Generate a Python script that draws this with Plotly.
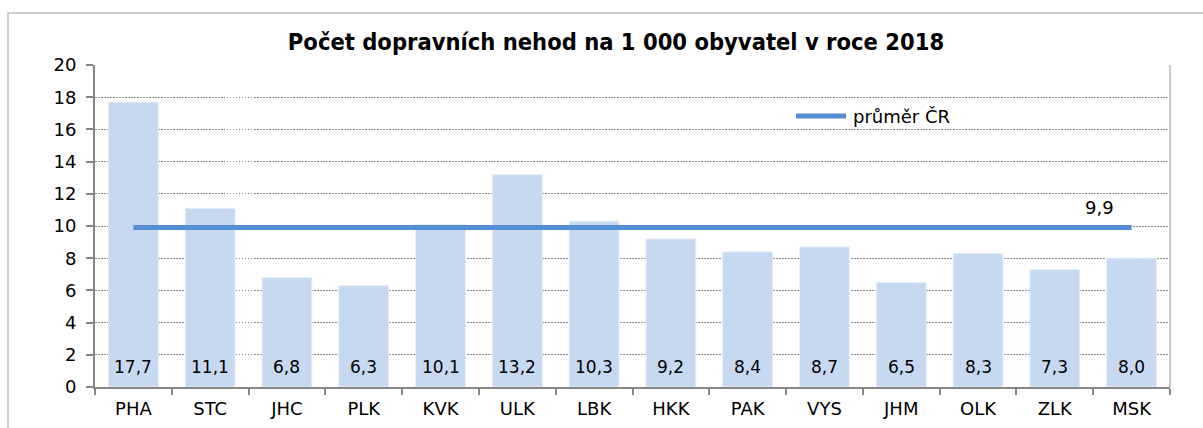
import plotly.graph_objects as go

categories = ["PHA", "STC", "JHC", "PLK", "KVK", "ULK", "LBK", "HKK", "PAK", "VYS", "JHM", "OLK", "ZLK", "MSK"]
values = [17.7, 11.1, 6.8, 6.3, 10.1, 13.2, 10.3, 9.2, 8.4, 8.7, 6.5, 8.3, 7.3, 8.0]
average_value = 9.9
average_name = "průměr ČR"
title_text = "Počet dopravních nehod na 1 000 obyvatel v roce 2018"
y_ticks = [0, 2, 4, 6, 8, 10, 12, 14, 16, 18, 20]

FONT = "DejaVu Sans"
TITLE_FONT = "DejaVu Sans Condensed, DejaVu Sans"
BAR_COLOR = "#c6d9f0"
LINE_COLOR = "#558ed5"

W, H = 1203, 428
L, R, T, B = 95, 33, 65, 41
pw = W - L - R
ph = H - T - B

def px_x(px):
    return (px - L) / pw

def px_y(py):
    return (H - B - py) / ph

fig = go.Figure()
fig.add_trace(go.Bar(
    x=categories, y=values, marker=dict(color=BAR_COLOR, line=dict(color="#e8f0fa", width=1)),
    showlegend=False, hoverinfo="x+y",
))
fig.add_trace(go.Scatter(
    x=categories, y=[average_value] * len(categories), mode="lines",
    line=dict(color=LINE_COLOR, width=5), name=average_name, showlegend=False,
))

# value labels inside bars
for c, v in zip(categories, values):
    fig.add_annotation(x=c, y=0, text=f"{v:.1f}".replace(".", ","), showarrow=False,
                       yanchor="bottom", yshift=8, font=dict(family=FONT, size=17, color="black"))

# average label
fig.add_annotation(x=categories[-1], y=average_value, text=f"{average_value:.1f}".replace(".", ","),
                   showarrow=False, yanchor="bottom", xshift=-32, yshift=8,
                   font=dict(family=FONT, size=18, color="black"))

# legend (manual)
fig.add_shape(type="line", xref="paper", yref="paper", x0=px_x(796), x1=px_x(846), y0=px_y(116), y1=px_y(116),
              line=dict(color=LINE_COLOR, width=5))
fig.add_annotation(xref="paper", yref="paper", x=px_x(851), y=px_y(116), text=average_name, showarrow=False,
                   xanchor="left", yanchor="middle", font=dict(family=FONT, size=18, color="black"))

# outer chart border
fig.add_shape(type="rect", xref="paper", yref="paper", x0=px_x(8), x1=px_x(1215), y0=px_y(440), y1=px_y(13),
              line=dict(color="#bfbfbf", width=1.5), layer="below")

fig.update_layout(
    width=W, height=H,
    margin=dict(l=L, r=R, t=T, b=B),
    paper_bgcolor="white", plot_bgcolor="white",
    bargap=0.35,
    title=dict(text="<b>" + title_text + "</b>", x=px_x(616), xanchor="center", y=1 - 42 / H, yanchor="middle",
               xref="paper", font=dict(family=TITLE_FONT, size=23.5, color="black")),
    font=dict(family=FONT, size=16, color="black"),
    showlegend=False,
)
fig.update_xaxes(
    showline=True, linecolor="#868686", linewidth=2, ticks="outside", tickson="boundaries",
    ticklen=6, tickcolor="#868686", tickwidth=1.5, showgrid=False, automargin=False,
    ticklabelstandoff=4,
    tickfont=dict(family=FONT, size=18, color="black"),
)
fig.update_yaxes(
    range=[0, 20], tickvals=y_ticks, showline=True, linecolor="#868686", linewidth=2,
    ticks="outside", ticklen=7, tickcolor="#868686", tickwidth=1.5,
    showgrid=True, gridcolor="#8a8a8a", griddash="1.5px,1.5px", gridwidth=1,
    zeroline=False, mirror=False, automargin=False, ticklabelstandoff=6,
    tickfont=dict(family=FONT, size=18, color="black"),
)
# right plot-area border
fig.add_shape(type="line", xref="paper", yref="paper", x0=1, x1=1, y0=0, y1=1,
              line=dict(color="#c8c8c8", width=2))

fig.write_html("out.html", config={"displayModeBar": False},
               post_script="document.body.style.margin='0';document.body.style.overflow='hidden';")
